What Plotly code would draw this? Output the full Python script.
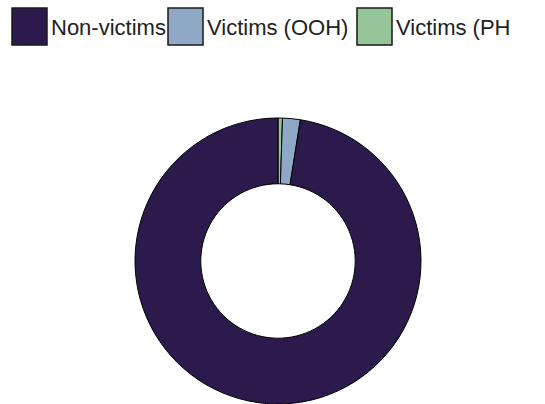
import plotly.graph_objects as go

labels = ["Non-victims", "Victims (OOH)", "Victims (PH"]
values = [97.5, 2.0, 0.5]
colors = ["#2b1a4b", "#8ea8c6", "#97c59a"]

W, H = 545, 404

fig = go.Figure()
fig.add_trace(go.Pie(
    labels=labels[::-1], values=values[::-1], sort=False, direction="clockwise",
    rotation=0, hole=0.54, textinfo="none", hoverinfo="label+value",
    marker=dict(colors=colors[::-1], line=dict(color="#000000", width=1)),
    showlegend=False,
    domain=dict(x=[(278 - 143) / W, (278 + 143) / W], y=[0, 286 / H]),
))

# manual legend
box_x = [12, 168, 357]
box_w, box_top, box_bot = 35, 8, 45
shapes, annotations = [], []
for i, lab in enumerate(labels):
    x0 = box_x[i]
    shapes.append(dict(type="rect", xref="paper", yref="paper",
                       x0=x0 / W, x1=(x0 + box_w) / W,
                       y0=1 - box_bot / H, y1=1 - box_top / H,
                       fillcolor=colors[i], line=dict(color="#1a1a1a", width=1.5)))
    annotations.append(dict(xref="paper", yref="paper", x=(x0 + box_w + 2) / W,
                            y=1 - 27 / H, xanchor="left", yanchor="middle",
                            text=lab, showarrow=False,
                            font=dict(family="Liberation Sans, Arial", size=22, color="#222222")))

fig.update_layout(width=W, height=H, margin=dict(l=0, r=0, t=0, b=0),
                  paper_bgcolor="white", plot_bgcolor="white",
                  shapes=shapes, annotations=annotations)
fig.write_html("out.html")
